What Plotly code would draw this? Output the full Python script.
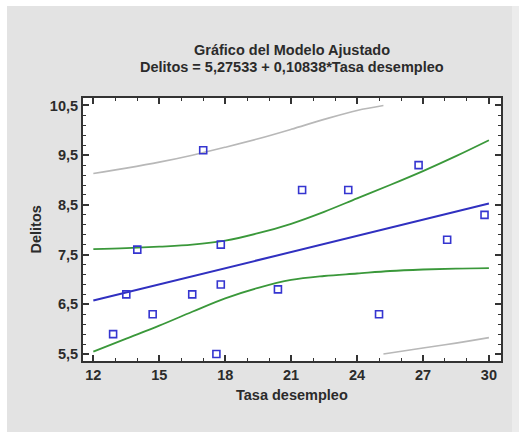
import plotly.graph_objects as go

tasa = [12.9, 13.5, 14.0, 14.7, 16.5, 17.0, 17.6, 17.8, 17.8, 20.4, 21.5, 23.6, 25.0, 26.8, 28.1, 29.8]
delitos = [5.9, 6.7, 7.6, 6.3, 6.7, 9.6, 5.5, 7.7, 6.9, 6.8, 8.8, 8.8, 6.3, 9.3, 7.8, 8.3]

# Fitted line endpoints
fit_x = [12, 30]
fit_y = [6.576, 8.527]

# Confidence limits for the mean (green)
band_x = [12, 13.5, 15, 16.5, 18, 19.5, 21, 22.5, 24, 25.5, 27, 28.5, 30]
conf_upper = [7.61, 7.63, 7.66, 7.70, 7.78, 7.93, 8.12, 8.36, 8.63, 8.90, 9.18, 9.48, 9.80]
conf_lower = [5.55, 5.81, 6.07, 6.35, 6.62, 6.83, 6.99, 7.07, 7.12, 7.17, 7.20, 7.22, 7.23]

# Prediction limits (gray), clipped at axis limits
pred_up_x = [12, 13.5, 15, 16.5, 18, 19.5, 21, 22.5, 24, 25.2]
pred_up_y = [9.13, 9.24, 9.36, 9.50, 9.66, 9.83, 10.02, 10.22, 10.40, 10.50]
pred_lo_x = [25.2, 27, 28.5, 30]
pred_lo_y = [5.50, 5.62, 5.72, 5.83]

x_ticks = [12, 15, 18, 21, 24, 27, 30]
x_ticktext = ["12", "15", "18", "21", "24", "27", "30"]
y_ticks = [5.5, 6.5, 7.5, 8.5, 9.5, 10.5]
y_ticktext = ["5,5", "6,5", "7,5", "8,5", "9,5", "10,5"]
x_minor_step = 1
y_minor_step = 0.2

title1 = "Gráfico del Modelo Ajustado"
title2 = "Delitos = 5,27533 + 0,10838*Tasa desempleo"
xlabel = "Tasa desempleo"
ylabel = "Delitos"

FONT = "Liberation Sans, Arial, sans-serif"
TXT = "#2b2b2b"
AX = "#333333"

fig = go.Figure()
fig.add_trace(go.Scatter(x=pred_up_x, y=pred_up_y, mode="lines",
                         line=dict(color="#b8b8b8", width=1.6, shape="spline"), hoverinfo="skip"))
fig.add_trace(go.Scatter(x=pred_lo_x, y=pred_lo_y, mode="lines",
                         line=dict(color="#b8b8b8", width=1.6, shape="spline"), hoverinfo="skip"))
fig.add_trace(go.Scatter(x=band_x, y=conf_upper, mode="lines",
                         line=dict(color="#3a983a", width=1.8, shape="spline"), hoverinfo="skip"))
fig.add_trace(go.Scatter(x=band_x, y=conf_lower, mode="lines",
                         line=dict(color="#3a983a", width=1.8, shape="spline"), hoverinfo="skip"))
fig.add_trace(go.Scatter(x=fit_x, y=fit_y, mode="lines",
                         line=dict(color="#3030c0", width=2)))
fig.add_trace(go.Scatter(x=tasa, y=delitos, mode="markers",
                         marker=dict(symbol="square-open", size=7, color="#3535d0",
                                     line=dict(width=1.6, color="#3535d0"))))
# invisible trace that activates the minor-tick axes
fig.add_trace(go.Scatter(x=fit_x, y=fit_y, xaxis="x2", yaxis="y2", mode="lines",
                         line=dict(width=0, color="rgba(0,0,0,0)"), hoverinfo="skip"))

xr = [11.53, 30.55]
yr = [5.36, 10.65]
tickfont = dict(family=FONT, size=14.5, color=TXT, weight="bold")

fig.update_layout(
    xaxis=dict(range=xr, tickmode="array", tickvals=x_ticks, ticktext=x_ticktext,
               showgrid=False, zeroline=False, showline=True, linecolor=AX, linewidth=2,
               mirror="allticks", ticks="inside", ticklen=6, tickwidth=1.6, tickcolor=AX,
               tickfont=tickfont),
    yaxis=dict(range=yr, tickmode="array", tickvals=y_ticks, ticktext=y_ticktext,
               showgrid=False, zeroline=False, showline=True, linecolor=AX, linewidth=2,
               mirror="allticks", ticks="inside", ticklen=6, tickwidth=1.6, tickcolor=AX,
               tickfont=tickfont),
    xaxis2=dict(range=xr, overlaying="x", side="bottom", tickmode="linear",
                tick0=x_ticks[0], dtick=x_minor_step,
                showticklabels=False, showgrid=False, zeroline=False, showline=False,
                mirror="allticks", ticks="inside", ticklen=3, tickwidth=1.1, tickcolor=AX),
    yaxis2=dict(range=yr, overlaying="y", side="left", tickmode="linear",
                tick0=y_ticks[0], dtick=y_minor_step,
                showticklabels=False, showgrid=False, zeroline=False, showline=False,
                mirror="allticks", ticks="inside", ticklen=3, tickwidth=1.1, tickcolor=AX),
)

annotations = [
    dict(text=title1, x=0.5, y=(361 - 50) / 263, xref="paper", yref="paper", showarrow=False,
         xanchor="center", yanchor="middle", font=dict(family=FONT, size=14.5, color=TXT, weight="bold")),
    dict(text=title2, x=0.5, y=(361 - 67) / 263, xref="paper", yref="paper", showarrow=False,
         xanchor="center", yanchor="middle", font=dict(family=FONT, size=14.5, color=TXT, weight="bold")),
    dict(text=xlabel, x=0.5, y=(361 - 395) / 263, xref="paper", yref="paper", showarrow=False,
         xanchor="center", yanchor="middle", font=dict(family=FONT, size=14.5, color=TXT, weight="bold")),
    dict(text=ylabel, x=(35 - 83) / 418, y=0.5, xref="paper", yref="paper", showarrow=False,
         textangle=-90, xanchor="center", yanchor="middle",
         font=dict(family=FONT, size=14.5, color=TXT, weight="bold")),
]

shapes = [
    dict(type="rect", xref="paper", yref="paper", x0=-0.25, x1=1.1, y0=(361 - 6) / 263, y1=1.45,
         fillcolor="white", line=dict(width=0), layer="below"),
    dict(type="rect", xref="paper", yref="paper", x0=-0.25, x1=(7 - 83) / 418, y0=-0.4, y1=1.45,
         fillcolor="white", line=dict(width=0), layer="below"),
    dict(type="rect", xref="paper", yref="paper", x0=(512 - 83) / 418, x1=1.1, y0=-0.4, y1=(361 - 6) / 263,
         fillcolor="#ececec", line=dict(width=0), layer="below"),
]

fig.update_layout(
    width=519, height=432,
    margin=dict(l=83, r=17.5, t=98, b=71),
    paper_bgcolor="#e3e3e3", plot_bgcolor="white",
    showlegend=False, annotations=annotations, shapes=shapes,
)

fig.write_html("out.html")
